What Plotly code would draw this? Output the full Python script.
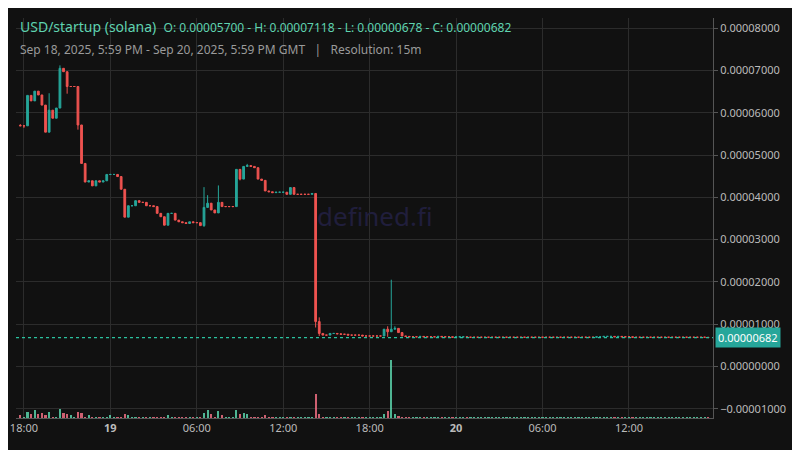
import pandas as pd
import plotly.graph_objects as go

# 15m closes, in units of 1e-5
closes = [5.69, 5.69, 6.41, 6.28, 6.51, 6.42, 6.18, 5.54, 6.06, 5.87,
          6.11, 7.05, 6.97, 6.62, 6.62, 6.62, 5.71, 4.80, 4.36, 4.39,
          4.27, 4.39, 4.36, 4.39, 4.54, 4.54, 4.54, 4.49, 4.19, 3.53,
          3.80, 3.80, 3.92, 3.88, 3.88, 3.80, 3.80, 3.78, 3.62, 3.54,
          3.34, 3.62, 3.62, 3.46, 3.42, 3.40, 3.38, 3.42, 3.40, 3.40,
          3.33, 3.76, 3.86, 3.70, 3.63, 3.88, 3.78, 3.78, 3.78, 3.78,
          4.66, 4.43, 4.73, 4.75, 4.73, 4.70, 4.43, 4.40, 4.15, 4.13,
          4.11, 4.12, 4.12, 4.12, 4.07, 4.23, 4.07, 4.07, 4.07, 4.07,
          4.07, 4.09,
          1.06, 0.78, 0.74, 0.74, 0.78, 0.78, 0.77, 0.76, 0.76, 0.74,
          0.74, 0.74, 0.74, 0.72, 0.72, 0.72, 0.72, 0.72, 0.72, 0.88,
          0.82, 0.88, 0.90, 0.80, 0.72,
          0.71, 0.70, 0.70, 0.70, 0.71, 0.70, 0.70, 0.70, 0.70, 0.71,
          0.70, 0.70, 0.70, 0.69, 0.70, 0.70, 0.70, 0.69, 0.69, 0.69,
          0.69, 0.69, 0.69, 0.69, 0.69, 0.69, 0.69, 0.69, 0.69, 0.69,
          0.69, 0.69, 0.69, 0.69, 0.69, 0.69, 0.69, 0.69, 0.69, 0.69,
          0.69, 0.69, 0.69, 0.69, 0.69, 0.69, 0.69, 0.69, 0.69, 0.69,
          0.69, 0.69, 0.69, 0.70, 0.70, 0.71, 0.71, 0.71, 0.70, 0.71,
          0.70, 0.70, 0.70, 0.69, 0.69, 0.69, 0.69, 0.69, 0.69, 0.69,
          0.69, 0.69, 0.69, 0.69, 0.69, 0.69, 0.69, 0.69, 0.69, 0.69,
          0.69, 0.69, 0.69, 0.69, 0.682]
first_open = 5.70
high_wicks = {0: 5.73, 8: 6.46, 11: 7.12, 51: 4.24, 52: 4.05, 53: 3.82, 55: 4.28,
              63: 4.79, 83: 1.16, 102: 0.95, 103: 2.05, 104: 0.95}
low_wicks = {1: 5.64, 13: 6.45, 16: 5.60, 51: 3.30, 61: 4.40, 82: 0.92, 83: 0.72, 102: 0.70}
vol_spikes = {0: 3, 2: 6, 3: 4, 4: 8, 5: 4, 6: 5, 7: 3, 8: 6, 11: 9, 12: 5, 13: 4, 14: 3,
              16: 6, 17: 5, 19: 3, 25: 3, 29: 4, 30: 3, 41: 3, 51: 5, 52: 8, 53: 4,
              55: 7, 56: 3, 60: 8, 61: 4, 62: 5, 63: 4, 68: 3, 82: 24, 83: 4,
              101: 4, 102: 7, 103: 58, 104: 4, 105: 2}
last_price = 0.00000682

n = len(closes)
t = pd.date_range("2025-09-18 17:45", periods=n, freq="15min")
opens = [first_open] + closes[:-1]
highs = [high_wicks.get(i, max(o, c)) for i, (o, c) in enumerate(zip(opens, closes))]
lows = [low_wicks.get(i, min(o, c)) for i, (o, c) in enumerate(zip(opens, closes))]
sc = 1e-5
vols = [vol_spikes.get(i, 1) for i in range(n)]
UP, DN = "#26a69a", "#ef5350"
vcol = ["rgba(90,210,170,0.85)" if c >= o else "rgba(240,110,130,0.85)" for o, c in zip(opens, closes)]

fig = go.Figure()
fig.add_trace(go.Bar(x=t, y=vols, marker_color=vcol, marker_line_width=0, yaxis="y2",
                     width=15 * 60 * 1000 * 0.6, showlegend=False))
fig.add_trace(go.Candlestick(
    x=t, open=[v * sc for v in opens], high=[v * sc for v in highs],
    low=[v * sc for v in lows], close=[v * sc for v in closes],
    increasing=dict(line=dict(color=UP, width=1), fillcolor=UP),
    decreasing=dict(line=dict(color=DN, width=1), fillcolor=DN),
    whiskerwidth=0, showlegend=False))

fig.add_hline(y=last_price, line=dict(color="#2bc29f", width=1.2, dash="dot"))

tickvals = pd.date_range("2025-09-18 18:00", periods=9, freq="6h")
ticktext = ["18:00", "<b>19</b>", "06:00", "12:00", "18:00", "<b>20</b>", "06:00", "12:00", "18:00"]

fig.update_layout(
    width=800, height=450,
    paper_bgcolor="#111111", plot_bgcolor="#111111",
    margin=dict(l=8, r=95, t=10, b=40),
    font=dict(family="Noto Sans", color="#bbbbbb", size=11),
    bargap=0,
    xaxis=dict(range=[pd.Timestamp("2025-09-18 17:27"), pd.Timestamp("2025-09-20 17:50")],
               tickvals=tickvals, ticktext=ticktext, showgrid=True, gridcolor="#2c2c2c",
               zeroline=False, rangeslider=dict(visible=False), showline=True,
               linecolor="#555555", ticks="", automargin=False,
               tickfont=dict(color="#bbbbbb", size=11)),
    yaxis=dict(side="right", range=[-0.0000122, 0.0000824], dtick=0.00001,
               tickformat=".8f", showgrid=True, gridcolor="#2c2c2c", zeroline=False,
               showline=True, linecolor="#555555", ticks="outside", ticklen=4,
               tickcolor="#555555", automargin=False,
               tickfont=dict(color="#bbbbbb", size=11)),
    yaxis2=dict(overlaying="y", range=[0, 58 * 6.9], visible=False),
    annotations=[
        dict(text="defined.fi", x=0.515, y=0.505, xref="paper", yref="paper",
             showarrow=False, font=dict(size=26, color="#201e3c")),
        dict(text="USD/startup (solana)  <span style='font-size:12px'>O: 0.00005700 - H: 0.00007118 - L: 0.00000678 - C: 0.00000682</span>",
             x=(10 - 8) / 697, y=1 - (19 - 10) / 400, xref="paper", yref="paper",
             showarrow=False, xanchor="left", yanchor="middle",
             font=dict(size=14, color="#5fd3b0")),
        dict(text="Sep 18, 2025, 5:59 PM - Sep 20, 2025, 5:59 PM GMT   |   Resolution: 15m",
             x=(10 - 8) / 697, y=1 - (41 - 10) / 400, xref="paper", yref="paper",
             showarrow=False, xanchor="left", yanchor="middle",
             font=dict(size=12, color="#9a9a9a")),
        dict(text="0.00000682", x=1.0, y=last_price, xref="paper", yref="y", xanchor="left",
             xshift=2, showarrow=False, bgcolor=UP, borderpad=2,
             font=dict(size=11, color="#ffffff")),
    ],
)

fig.write_html("out.html")
